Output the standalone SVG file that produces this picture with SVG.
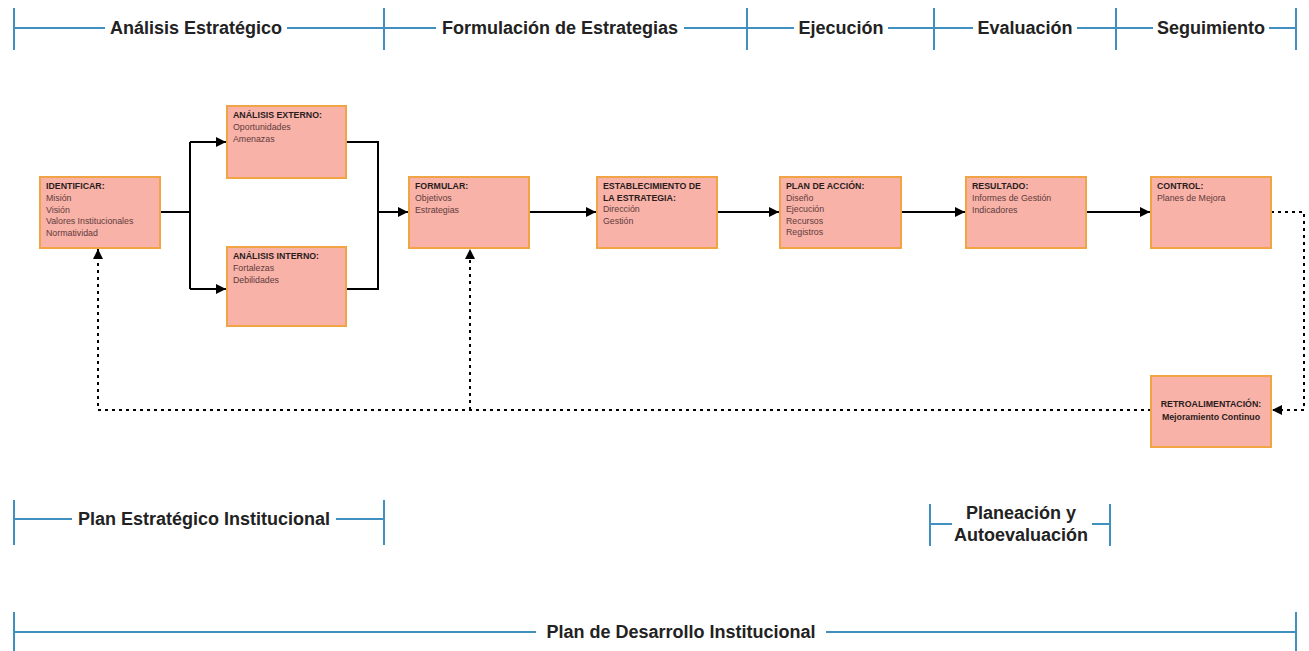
<svg xmlns="http://www.w3.org/2000/svg" width="1309" height="651" viewBox="0 0 1309 651">
<defs>
<style>
.bl{stroke:#3f8fbf;stroke-width:2;fill:none}
.lbl{font-family:"Liberation Sans",Arial,sans-serif;font-weight:bold;font-size:18px;fill:#222;text-anchor:middle}
.box{fill:#f8b2a8;stroke:#f0a443;stroke-width:2}
.t{font-family:"Liberation Sans",Arial,sans-serif;font-size:8.8px;fill:#5e3c3c}
.tb{font-family:"Liberation Sans",Arial,sans-serif;font-size:8.8px;font-weight:bold;fill:#2a1c1c}
.c{stroke:#000;stroke-width:2;fill:none}
.d{stroke:#000;stroke-width:2;fill:none;stroke-dasharray:3,4}
</style>
<marker id="ah" viewBox="0 0 10 10" refX="10" refY="5" markerWidth="6" markerHeight="5" orient="auto" markerUnits="strokeWidth">
<path d="M0,0 L10,5 L0,10 z" fill="#000"/>
</marker>
</defs>
<rect width="1309" height="651" fill="#fff"/>

<g id="timeline-top">
<path class="bl" d="M14,8V50 M384,8V50 M747,8V50 M934,8V50 M1116,8V50 M1296,8V50"/>
<path class="bl" d="M14,28H105 M287,28H384 M384,28H436 M684,28H747 M747,28H794 M888,28H934 M934,28H973 M1077,28H1116 M1116,28H1153 M1269,28H1296"/>
<text class="lbl" x="196" y="34">Análisis Estratégico</text>
<text class="lbl" x="560" y="34">Formulación de Estrategias</text>
<text class="lbl" x="841" y="34">Ejecución</text>
<text class="lbl" x="1025" y="34">Evaluación</text>
<text class="lbl" x="1211" y="34">Seguimiento</text>
</g>

<g id="connectors">
<path class="c" d="M160,212H190 M190,142V289"/>
<path class="c" d="M190,142H226" marker-end="url(#ah)"/>
<path class="c" d="M190,289H226" marker-end="url(#ah)"/>
<path class="c" d="M347,142H378V289H347 M378,212H408" marker-end="url(#ah)"/>
<path class="c" d="M529,212H596" marker-end="url(#ah)"/>
<path class="c" d="M717,212H779" marker-end="url(#ah)"/>
<path class="c" d="M901,212H965" marker-end="url(#ah)"/>
<path class="c" d="M1086,212H1150" marker-end="url(#ah)"/>
<path class="d" d="M1271,212H1304V410H1272" marker-end="url(#ah)"/>
<path class="d" d="M1151,410H98V249" marker-end="url(#ah)"/>
<path class="d" d="M470,410V249" marker-end="url(#ah)"/>
</g>

<g id="identificar">
<rect class="box" x="40" y="177" width="120" height="71"/>
<text class="tb" x="46" y="189">IDENTIFICAR:</text>
<text class="t" x="46" y="201">Misión</text>
<text class="t" x="46" y="212.5">Visión</text>
<text class="t" x="46" y="224">Valores Institucionales</text>
<text class="t" x="46" y="235.5">Normatividad</text>
</g>

<g id="analisis-externo">
<rect class="box" x="227" y="106" width="119" height="72"/>
<text class="tb" x="233" y="118">ANÁLISIS EXTERNO:</text>
<text class="t" x="233" y="130">Oportunidades</text>
<text class="t" x="233" y="142">Amenazas</text>
</g>

<g id="analisis-interno">
<rect class="box" x="227" y="247" width="119" height="79"/>
<text class="tb" x="233" y="259">ANÁLISIS INTERNO:</text>
<text class="t" x="233" y="271">Fortalezas</text>
<text class="t" x="233" y="283">Debilidades</text>
</g>

<g id="formular">
<rect class="box" x="409" y="177" width="120" height="71"/>
<text class="tb" x="415" y="189">FORMULAR:</text>
<text class="t" x="415" y="201">Objetivos</text>
<text class="t" x="415" y="213">Estrategias</text>
</g>

<g id="establecimiento">
<rect class="box" x="597" y="177" width="120" height="71"/>
<text class="tb" x="603" y="189">ESTABLECIMIENTO DE</text>
<text class="tb" x="603" y="200.5">LA ESTRATEGIA:</text>
<text class="t" x="603" y="212">Dirección</text>
<text class="t" x="603" y="223.5">Gestión</text>
</g>

<g id="plan-accion">
<rect class="box" x="780" y="177" width="121" height="71"/>
<text class="tb" x="786" y="189">PLAN DE ACCIÓN:</text>
<text class="t" x="786" y="200.5">Diseño</text>
<text class="t" x="786" y="212">Ejecución</text>
<text class="t" x="786" y="223.5">Recursos</text>
<text class="t" x="786" y="235">Registros</text>
</g>

<g id="resultado">
<rect class="box" x="966" y="177" width="120" height="71"/>
<text class="tb" x="972" y="189">RESULTADO:</text>
<text class="t" x="972" y="201">Informes de Gestión</text>
<text class="t" x="972" y="213">Indicadores</text>
</g>

<g id="control">
<rect class="box" x="1151" y="177" width="120" height="71"/>
<text class="tb" x="1157" y="189">CONTROL:</text>
<text class="t" x="1157" y="201">Planes de Mejora</text>
</g>

<g id="retroalimentacion">
<rect class="box" x="1151" y="376" width="120" height="71"/>
<text class="tb" x="1211" y="407" text-anchor="middle">RETROALIMENTACIÓN:</text>
<text class="tb" x="1211" y="419.5" text-anchor="middle">Mejoramiento Continuo</text>
</g>

<g id="plan-estrategico">
<path class="bl" d="M14,500V545 M384,500V545 M14,519H72 M336,519H384"/>
<text class="lbl" x="204" y="525">Plan Estratégico Institucional</text>
</g>

<g id="planeacion">
<path class="bl" d="M930,504V546 M1110,504V546 M930,524H952 M1092,524H1110"/>
<text class="lbl" x="1021" y="519">Planeación y</text>
<text class="lbl" x="1021" y="541">Autoevaluación</text>
</g>

<g id="plan-desarrollo">
<path class="bl" d="M14,612V651 M1296,612V651 M14,632H536 M826,632H1296"/>
<text class="lbl" x="681" y="638">Plan de Desarrollo Institucional</text>
</g>
</svg>
